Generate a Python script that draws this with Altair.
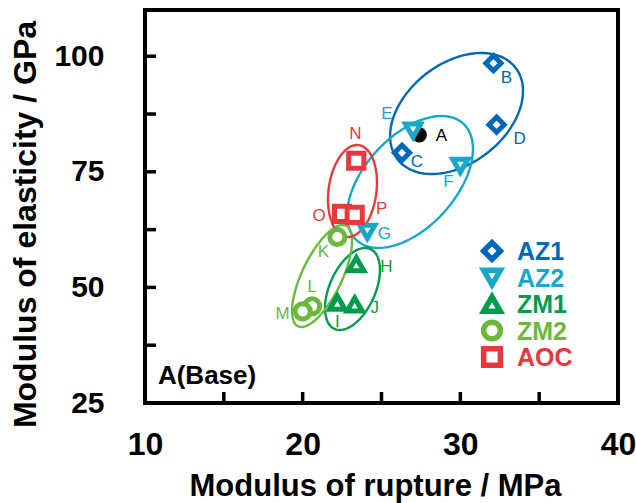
import altair as alt
import numpy as np
import pandas as pd

# ---------------- data ----------------
sample = ["A", "B", "C", "D", "E", "F", "G", "H", "I", "J", "K", "L", "M", "N", "O", "P"]
group = ["Base", "AZ1", "AZ1", "AZ1", "AZ2", "AZ2", "AZ2", "ZM1", "ZM1", "ZM1",
         "ZM2", "ZM2", "ZM2", "AOC", "AOC", "AOC"]
mor = [27.4, 32.1, 26.3, 32.3, 27.0, 30.0, 24.1, 23.4, 22.2, 23.3, 22.2, 20.6, 20.0, 23.4, 22.5, 23.3]
moe = [83.0, 98.5, 79.1, 85.2, 83.9, 76.3, 62.0, 55.0, 46.7, 46.3, 60.9, 45.9, 44.8, 77.4, 65.9, 65.7]

group_order = ["AZ1", "AZ2", "ZM1", "ZM2", "AOC"]
group_colors = ["#0068b7", "#17a7c8", "#009b4c", "#6cb83f", "#e8383d"]
group_shapes = ["diamond", "triangle-down", "triangle-up", "circle", "square"]

x_ticks = [10, 15, 20, 25, 30, 35, 40]
y_ticks = [25, 37.5, 50, 62.5, 75, 87.5, 100]

# ellipse annotations: centre in data units, semi-axes (px), angle (deg)
ell_group = ["AZ1", "AZ2", "ZM1", "ZM2", "AOC"]
ell_cx = [29.76, 26.81, 23.16, 21.23, 23.16]
ell_cy = [87.61, 72.80, 49.66, 52.47, 70.85]
ell_a = [74.7, 79.0, 43.8, 55.7, 46.3]
ell_b = [50.0, 45.5, 22.8, 20.0, 23.9]
ell_ang = [37.9, 47.7, 65.8, 64.5, 82.3]

# label offsets (px): right, down
lab_dx = [22, 13, 15, 23, -26, -12, 17, 30, 0, 20, -14, 0, -20, -1, -23, 27]
lab_dy = [1, 15, 9, 14, -17, 16, 2, 3, 19, 3, 15, -19, 3, -27, 2, -6]

note_text = ["A(Base)"]
note_x = [10.82]
note_y = [29.1]

# ---------------- layout ----------------
W, H = 473, 393
XD, YD = [10, 40], [25, 110]
kx = W / (XD[1] - XD[0])
ky = H / (YD[1] - YD[0])
FONT = "Liberation Sans"
TICK = 11
LEG_SYM_X, LEG_TXT_X, LEG_Y0, LEG_DY = 347, 372, 241, 26.5

df = pd.DataFrame({"sample": sample, "group": group, "mor": mor, "moe": moe,
                   "dx": lab_dx, "dy": lab_dy})
df["lx"] = df["mor"] + df["dx"] / kx
df["ly"] = df["moe"] - df["dy"] / ky
df_g = df[df["group"] != "Base"]
df_b = df[df["group"] == "Base"]

rows = []
t = np.linspace(0, 2 * np.pi, 121)
for g, cx, cy, a, b, ang in zip(ell_group, ell_cx, ell_cy, ell_a, ell_b, ell_ang):
    th = np.radians(ang)
    ox = a * np.cos(t) * np.cos(th) - b * np.sin(t) * np.sin(th)
    oy = a * np.cos(t) * np.sin(th) + b * np.sin(t) * np.cos(th)
    for i in range(len(t)):
        rows.append({"group": g, "i": i, "x": cx + ox[i] / kx, "y": cy + oy[i] / ky})
df_e = pd.DataFrame(rows)

df_leg = pd.DataFrame({"group": group_order})
df_leg["py"] = LEG_Y0 + LEG_DY * np.arange(len(group_order))

xs = alt.Scale(domain=XD, nice=False, zero=False)
ys = alt.Scale(domain=YD, nice=False, zero=False)
cs = alt.Scale(domain=group_order, range=group_colors)
ss = alt.Scale(domain=group_order, range=group_shapes)

x_axis = alt.Axis(values=x_ticks, labelExpr="datum.value % 10 === 0 ? datum.label : ''",
                  ticks=False, domain=False, grid=False, labelFontSize=32,
                  labelFontWeight="bold", labelPadding=26, labelFlush=False, labelFont=FONT,
                  labelColor="black",
                  title="Modulus of rupture / MPa", titleFontSize=31, titleFont=FONT,
                  titleFontWeight="bold", titleX=230, titleY=92, titleBaseline="alphabetic",
                  titleColor="black")
y_axis = alt.Axis(values=y_ticks, labelExpr="datum.value % 25 === 0 ? datum.label : ''",
                  ticks=False, domain=False, grid=False, labelFontSize=30,
                  labelFontWeight="bold", labelPadding=41, labelFlush=False, labelFont=FONT,
                  labelColor="black",
                  title="Modulus of elasticity / GPa", titleFontSize=32, titleFont=FONT,
                  titleFontWeight="bold", titleX=-110, titleY=214, titleBaseline="alphabetic",
                  titleColor="black")

ellipses = alt.Chart(df_e).mark_line(strokeWidth=2.4).encode(
    x=alt.X("x:Q", scale=xs, axis=x_axis),
    y=alt.Y("y:Q", scale=ys, axis=y_axis),
    stroke=alt.Stroke("group:N", scale=cs, legend=None),
    detail="group:N",
    order="i:Q",
)

xtick_marks = alt.Chart(pd.DataFrame({"v": x_ticks})).mark_rule(
    color="black", strokeWidth=3.5).encode(
    x=alt.X("v:Q", scale=xs), y=alt.value(H), y2=alt.value(H - TICK))
ytick_marks = alt.Chart(pd.DataFrame({"v": y_ticks})).mark_rule(
    color="black", strokeWidth=3.5).encode(
    y=alt.Y("v:Q", scale=ys), x=alt.value(0), x2=alt.value(TICK))

frame = alt.Chart(pd.DataFrame({"f": [0]})).mark_rect(
    fillOpacity=0, stroke="black", strokeWidth=4).encode(
    x=alt.value(0), x2=alt.value(W), y=alt.value(0), y2=alt.value(H))

base_pt = alt.Chart(df_b).mark_point(shape="circle", filled=True, color="black",
                                     size=230, opacity=1).encode(
    x=alt.X("mor:Q", scale=xs), y=alt.Y("moe:Q", scale=ys))

points = alt.Chart(df_g).mark_point(filled=False, fill="white", fillOpacity=1,
                                    strokeWidth=5, size=230, opacity=1).encode(
    x=alt.X("mor:Q", scale=xs),
    y=alt.Y("moe:Q", scale=ys),
    color=alt.Color("group:N", scale=cs, legend=None),
    shape=alt.Shape("group:N", scale=ss, legend=None),
)

labels = alt.Chart(df_g).mark_text(fontSize=17, font=FONT, align="center",
                                   baseline="middle").encode(
    x=alt.X("lx:Q", scale=xs), y=alt.Y("ly:Q", scale=ys),
    text="sample:N",
    fill=alt.Fill("group:N", scale=cs, legend=None),
)
base_label = alt.Chart(df_b).mark_text(fontSize=17, font=FONT, align="center",
                                       baseline="middle", color="black").encode(
    x=alt.X("lx:Q", scale=xs), y=alt.Y("ly:Q", scale=ys), text="sample:N")

note = alt.Chart(pd.DataFrame({"t": note_text, "x": note_x, "y": note_y})).mark_text(
    fontSize=26, font=FONT, fontWeight="bold", align="left", baseline="alphabetic",
    color="black").encode(x=alt.X("x:Q", scale=xs), y=alt.Y("y:Q", scale=ys), text="t:N")

# legend (symbols + coloured labels)
leg_sym = alt.Chart(df_leg).mark_point(filled=False, fill="white", fillOpacity=1,
                                       strokeWidth=5.5, size=280, opacity=1).encode(
    x=alt.value(LEG_SYM_X), y=alt.Y("py:Q", scale=None),
    color=alt.Color("group:N", scale=cs, legend=None),
    shape=alt.Shape("group:N", scale=ss, legend=None),
)
leg_txt = alt.Chart(df_leg).mark_text(fontSize=25, font=FONT, fontWeight="bold",
                                      align="left", baseline="middle", dy=1).encode(
    x=alt.value(LEG_TXT_X), y=alt.Y("py:Q", scale=None), text="group:N",
    fill=alt.Fill("group:N", scale=cs, legend=None),
)

chart = alt.layer(ellipses, xtick_marks, ytick_marks, base_pt, points, labels, base_label,
                  note, leg_sym, leg_txt, frame).properties(
    width=W, height=H, autosize="none", background="white",
    padding={"left": 145, "top": 10, "right": 18, "bottom": 100},
).configure_view(stroke=None)

chart.save("out.html", embed_options={"renderer": "svg", "actions": False})
